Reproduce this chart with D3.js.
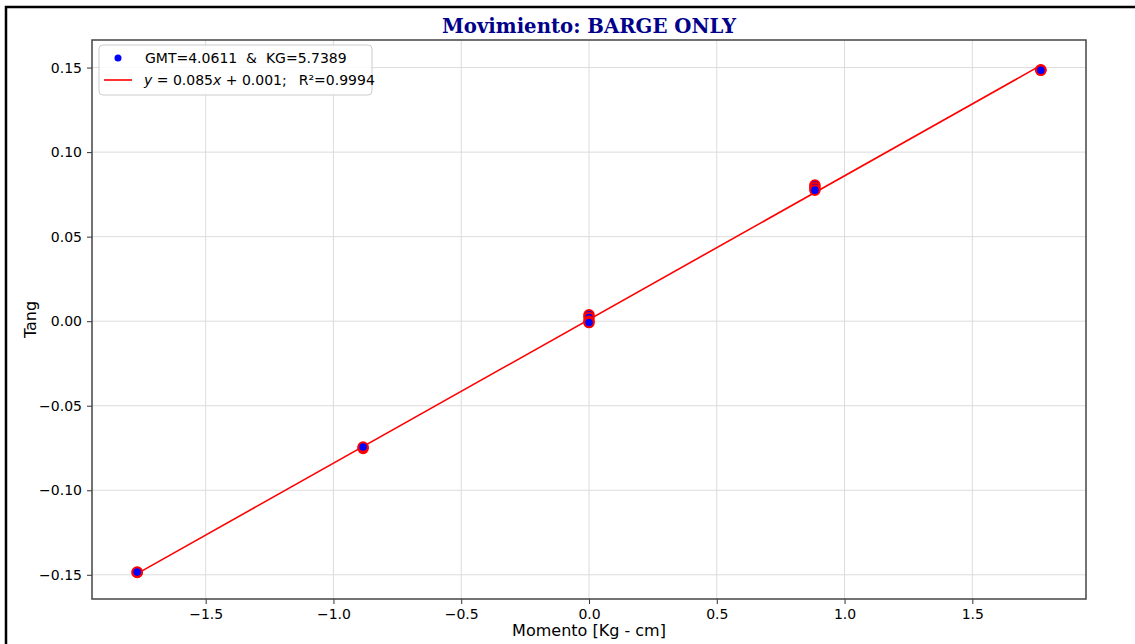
<!DOCTYPE html>
<html>
<head>
<meta charset="utf-8">
<script src="https://cdn.jsdelivr.net/npm/d3@7"></script>
<style>
  html, body { margin: 0; padding: 0; background: #fff; }
  svg { display: block; }
</style>
</head>
<body>
<svg id="chart" width="1135" height="644"></svg>
<script>
// Measured heel test: heeling moment vs tangent of heel angle
const momento = [-1.768, -1.768, -0.884, -0.884, 0, 0, 0, 0, 0.884, 0.884, 0.884, 1.768, 1.768];
const tang    = [-0.1486, -0.1484, -0.0752, -0.0744, 0.0038, 0.0022, 0.0, -0.0008, 0.0805, 0.0790, 0.0775, 0.1487, 0.1484];

// Linear fit reported in the legend
const slope = 0.085;
const intercept = 0.001;
const r2 = 0.9994;
const gmt = "4.0611";
const kg = "5.7389";

const xTicks = [-1.5, -1.0, -0.5, 0.0, 0.5, 1.0, 1.5];
const yTicks = [-0.15, -0.10, -0.05, 0.00, 0.05, 0.10, 0.15];

const titleText = "Movimiento: BARGE ONLY";
const xLabel = "Momento [Kg - cm]";
const yLabel = "Tang";

const W = 1135, H = 644;
const plot = { left: 92, right: 1086, top: 40, bottom: 599 };

const svg = d3.select("#chart");
svg.append("rect").attr("width", W).attr("height", H).attr("fill", "#fff");

// outer frame (top and left edges)
svg.append("path")
  .attr("d", `M6,${H} L6,7 L${W},7`)
  .attr("fill", "none").attr("stroke", "#000").attr("stroke-width", 2.5);

// domains follow the data extent plus 5% padding, fitted line included
const xMin = d3.min(momento), xMax = d3.max(momento);
const lineY = [slope * xMin + intercept, slope * xMax + intercept];
const yLo = Math.min(d3.min(tang), ...lineY), yHi = Math.max(d3.max(tang), ...lineY);
const xPad = (xMax - xMin) * 0.05, yPad = (yHi - yLo) * 0.05;

const x = d3.scaleLinear().domain([xMin - xPad, xMax + xPad]).range([plot.left, plot.right]);
const y = d3.scaleLinear().domain([yLo - yPad, yHi + yPad]).range([plot.bottom, plot.top]);

const font = "'DejaVu Sans', sans-serif";

// grid
const grid = svg.append("g").attr("stroke", "#dcdcdc").attr("stroke-width", 1);
xTicks.forEach(t => grid.append("line")
  .attr("x1", x(t)).attr("x2", x(t)).attr("y1", plot.top).attr("y2", plot.bottom));
yTicks.forEach(t => grid.append("line")
  .attr("x1", plot.left).attr("x2", plot.right).attr("y1", y(t)).attr("y2", y(t)));

// axes
const fmtX = d => (d < 0 ? "\u2212" : "") + Math.abs(d).toFixed(1);
const fmtY = d => (d < 0 ? "\u2212" : "") + Math.abs(d).toFixed(2);

const xAxis = svg.append("g").attr("transform", `translate(0,${plot.bottom})`)
  .call(d3.axisBottom(x).tickValues(xTicks).tickFormat(fmtX).tickSize(5).tickPadding(5));
const yAxis = svg.append("g").attr("transform", `translate(${plot.left},0)`)
  .call(d3.axisLeft(y).tickValues(yTicks).tickFormat(fmtY).tickSize(5).tickPadding(5));
[xAxis, yAxis].forEach(a => {
  a.select(".domain").remove();
  a.selectAll(".tick line").attr("stroke", "#333").attr("stroke-width", 1);
  a.selectAll(".tick text").attr("fill", "#000").style("font-family", font).style("font-size", "14px");
});

// spines
svg.append("rect")
  .attr("x", plot.left).attr("y", plot.top)
  .attr("width", plot.right - plot.left).attr("height", plot.bottom - plot.top)
  .attr("fill", "none").attr("stroke", "#444").attr("stroke-width", 1.5);

// fitted line
svg.append("line")
  .attr("x1", x(xMin)).attr("y1", y(lineY[0]))
  .attr("x2", x(xMax)).attr("y2", y(lineY[1]))
  .attr("stroke", "#ff0000").attr("stroke-width", 1.6);

// measured points
svg.append("g").selectAll("circle")
  .data(momento.map((m, i) => [m, tang[i]]))
  .join("circle")
  .attr("cx", d => x(d[0])).attr("cy", d => y(d[1]))
  .attr("r", 4.8)
  .attr("fill", "#0000ff").attr("stroke", "#ff0000").attr("stroke-width", 2);

// title
svg.append("text")
  .attr("x", (plot.left + plot.right) / 2).attr("y", 33)
  .attr("text-anchor", "middle")
  .style("font-family", "'DejaVu Serif', serif").style("font-weight", "bold").style("font-size", "19.7px")
  .attr("fill", "#00008b").text(titleText);

// axis labels
svg.append("text")
  .attr("x", (plot.left + plot.right) / 2).attr("y", 636)
  .attr("text-anchor", "middle")
  .style("font-family", font).style("font-size", "16px").attr("fill", "#000").text(xLabel);
svg.append("text")
  .attr("transform", `translate(36,${(plot.top + plot.bottom) / 2}) rotate(-90)`)
  .attr("text-anchor", "middle")
  .style("font-family", font).style("font-size", "16px").attr("fill", "#000").text(yLabel);

// legend
const lg = svg.append("g").attr("transform", "translate(99,45)");
lg.append("rect").attr("width", 273).attr("height", 50).attr("rx", 4)
  .attr("fill", "#fff").attr("fill-opacity", 0.85).attr("stroke", "#cccccc").attr("stroke-width", 1);
lg.append("circle").attr("cx", 19).attr("cy", 13).attr("r", 3.5).attr("fill", "#0000ff");
lg.append("text").attr("x", 46).attr("y", 18)
  .style("font-family", font).style("font-size", "14px").attr("fill", "#000")
  .attr("xml:space", "preserve")
  .text(`GMT=${gmt}  &  KG=${kg}`);
lg.append("line").attr("x1", 5).attr("x2", 33).attr("y1", 35).attr("y2", 35)
  .attr("stroke", "#ff0000").attr("stroke-width", 1.6);

// fit equation with italic variables
const eq = lg.append("text").attr("x", 45).attr("y", 40)
  .style("font-family", font).style("font-size", "14px").attr("fill", "#000")
  .attr("xml:space", "preserve");
eq.append("tspan").style("font-style", "italic").text("y");
eq.append("tspan").text(` = ${slope.toFixed(3)}`);
eq.append("tspan").style("font-style", "italic").text("x");
eq.append("tspan").text(` + ${intercept.toFixed(3)};`);
eq.append("tspan").attr("dx", 12).text(`R\u00b2=${r2.toFixed(4)}`);
</script>
</body>
</html>
